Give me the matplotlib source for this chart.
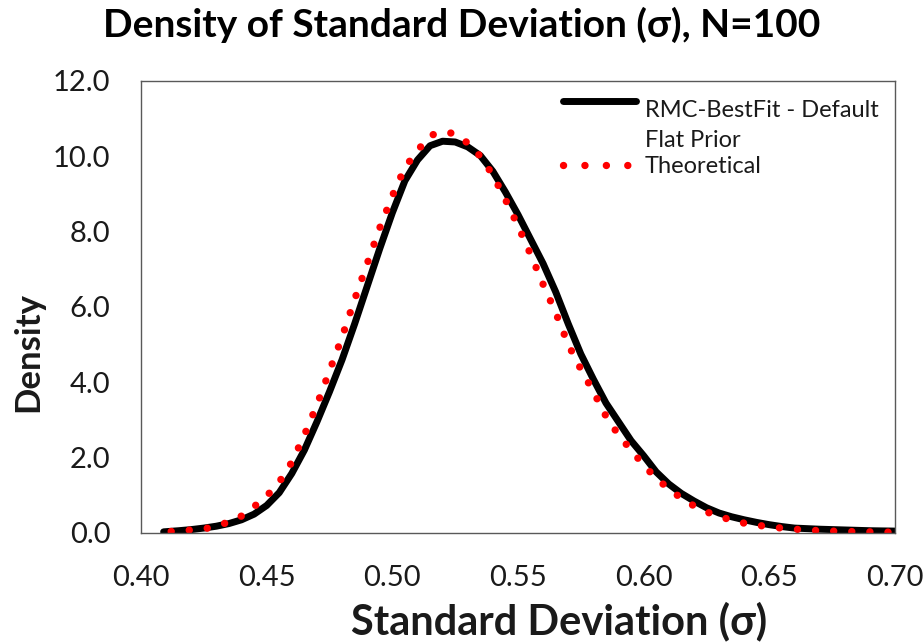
import matplotlib
matplotlib.use("Agg")
import matplotlib.pyplot as plt
import numpy as np
from matplotlib.legend_handler import HandlerLine2D

# RMC-BestFit posterior density of sigma
rmc_x = [0.409, 0.415, 0.420, 0.425, 0.430, 0.435, 0.440, 0.445, 0.450, 0.455,
         0.460, 0.465, 0.470, 0.475, 0.480, 0.485, 0.490, 0.495, 0.500, 0.505,
         0.510, 0.515, 0.520, 0.525, 0.530, 0.535, 0.540, 0.545, 0.550, 0.555,
         0.560, 0.565, 0.570, 0.575, 0.580, 0.585, 0.590, 0.595, 0.600, 0.605,
         0.610, 0.615, 0.620, 0.625, 0.630, 0.635, 0.640, 0.645, 0.650, 0.655,
         0.660, 0.670, 0.680, 0.690, 0.700]
rmc_y = [0.03, 0.06, 0.09, 0.13, 0.18, 0.25, 0.35, 0.50, 0.73, 1.07,
         1.58, 2.20, 2.95, 3.75, 4.60, 5.55, 6.55, 7.55, 8.50, 9.35,
         9.90, 10.28, 10.40, 10.38, 10.25, 10.02, 9.60, 9.05, 8.45, 7.80,
         7.15, 6.40, 5.55, 4.75, 4.08, 3.45, 2.95, 2.45, 2.05, 1.62,
         1.30, 1.05, 0.85, 0.67, 0.53, 0.43, 0.35, 0.28, 0.22, 0.17,
         0.13, 0.10, 0.08, 0.06, 0.05]

# theoretical density
theo_x = [0.412, 0.415, 0.420, 0.425, 0.430, 0.435, 0.440, 0.445, 0.450, 0.455,
          0.460, 0.465, 0.470, 0.475, 0.480, 0.485, 0.490, 0.495, 0.500, 0.505,
          0.510, 0.515, 0.520, 0.525, 0.530, 0.535, 0.540, 0.545, 0.550, 0.555,
          0.560, 0.565, 0.570, 0.575, 0.580, 0.585, 0.590, 0.595, 0.600, 0.605,
          0.610, 0.615, 0.620, 0.625, 0.630, 0.635, 0.640, 0.645, 0.650, 0.660,
          0.670, 0.680, 0.690, 0.700]
theo_y = [0.04, 0.05, 0.08, 0.11, 0.17, 0.30, 0.45, 0.70, 0.98, 1.35,
          1.88, 2.60, 3.40, 4.30, 5.20, 6.20, 7.15, 8.10, 8.95, 9.70,
          10.15, 10.55, 10.65, 10.60, 10.35, 10.00, 9.50, 8.85, 8.15, 7.40,
          6.60, 5.85, 5.00, 4.35, 3.75, 3.10, 2.60, 2.20, 1.80, 1.45,
          1.17, 0.92, 0.72, 0.56, 0.44, 0.34, 0.26, 0.21, 0.16, 0.10,
          0.06, 0.04, 0.03, 0.02]

x_ticks = [0.40, 0.45, 0.50, 0.55, 0.60, 0.65, 0.70]
y_ticks = [0.0, 2.0, 4.0, 6.0, 8.0, 10.0, 12.0]

FONT = ["Lato", "DejaVu Sans"]
plt.rcParams["font.family"] = FONT
TXT = "#1a1a1a"


class TopLineHandler(HandlerLine2D):
    """ puts the legend line next to the first line of a two line label """

    def __init__(self, shift, **kw):
        super().__init__(**kw)
        self.shift = shift

    def create_artists(self, legend, orig_handle, xdescent, ydescent,
                       width, height, fontsize, trans):
        arts = super().create_artists(legend, orig_handle, xdescent, ydescent,
                                      width, height, fontsize, trans)
        for a in arts:
            a.set_ydata(np.asarray(a.get_ydata()) + self.shift)
        return arts


fig = plt.figure(figsize=(9.24, 6.44), dpi=100)
ax = fig.add_axes([0.1526, 0.1724, 0.816, 0.7019])

ax.plot(rmc_x, rmc_y, color="black", lw=5.0, solid_capstyle="round",
        solid_joinstyle="round", label="RMC-BestFit - Default\nFlat Prior")
ax.plot(theo_x, theo_y, color="#ff0000", lw=5.3, linestyle=(0, (0.01, 2.45)),
        dash_capstyle="round", label="Theoretical")

ax.set_xlim(0.40, 0.70)
ax.set_ylim(0, 12)
ax.set_xticks(x_ticks)
ax.set_xticklabels(["%.2f" % v for v in x_ticks])
ax.set_yticks(y_ticks)
ax.set_yticklabels(["%.1f" % v for v in y_ticks])
ax.tick_params(length=0, labelsize=21, colors=TXT)
ax.tick_params(axis="y", pad=22)
ax.tick_params(axis="x", pad=23)
for s in ax.spines.values():
    s.set_color("#595959")
    s.set_linewidth(1.0)

ax.set_xlabel("Standard Deviation (σ)", fontsize=30, fontweight="bold",
              color=TXT)
ax.xaxis.set_label_coords(0.554, -0.152)
ax.set_ylabel("Density", fontsize=25, fontweight="bold", color=TXT)
ax.yaxis.set_label_coords(-0.128, 0.40)
fig.suptitle("Density of Standard Deviation (σ), N=100", fontsize=28,
             fontweight="bold", color="black", y=0.99)

handles, labels = ax.get_legend_handles_labels()
leg = ax.legend(handles, labels, loc="upper right", frameon=False, fontsize=17,
                handlelength=3.1, handletextpad=0.35, labelspacing=0.22,
                borderaxespad=0.3, bbox_to_anchor=(1.0, 0.995),
                handler_map={handles[0]: TopLineHandler(shift=18)})
for t in leg.get_texts():
    t.set_color(TXT)
leg.get_texts()[0].set_linespacing(1.55)
# a slightly looser dot pattern in the legend key, as in the original
leg.get_lines()[1].set_linestyle((0, (0.01, 2.9)))

fig.savefig("out.png", dpi=100)
